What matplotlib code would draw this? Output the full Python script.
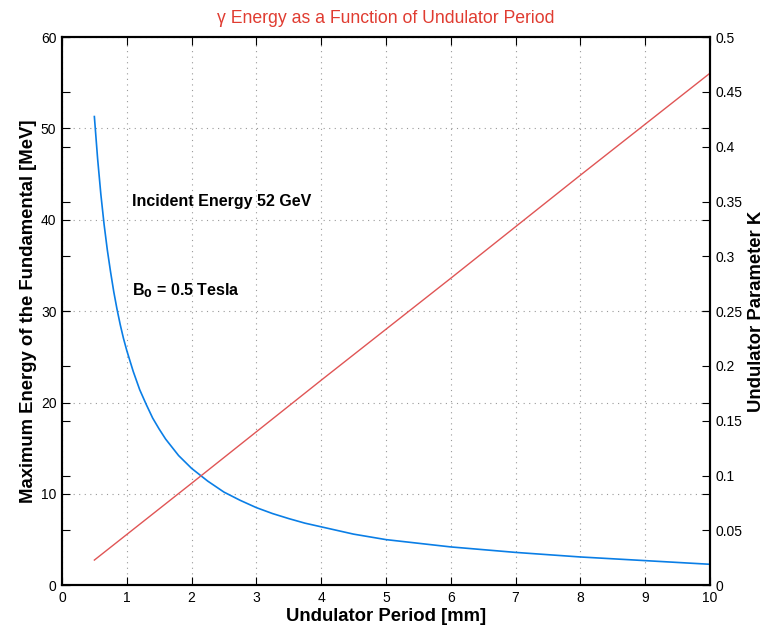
import matplotlib.pyplot as plt

plt.rcParams['font.family'] = ['Liberation Sans', 'DejaVu Sans']

# periodo del ondulador [mm] y energia maxima del fundamental [MeV]
period = [0.5, 0.55, 0.6, 0.65, 0.7, 0.75, 0.8, 0.85, 0.9, 0.95, 1.0, 1.1, 1.2, 1.3,
          1.4, 1.5, 1.6, 1.7, 1.8, 1.9, 2.0, 2.25, 2.5, 2.75, 3.0, 3.25, 3.5, 3.75,
          4.0, 4.5, 5.0, 5.5, 6.0, 6.5, 7.0, 7.5, 8.0, 8.5, 9.0, 9.5, 10.0]
energy = [51.3, 46.7, 42.8, 39.5, 36.7, 34.3, 32.1, 30.2, 28.5, 27.0, 25.7, 23.4, 21.4, 19.8,
          18.3, 17.1, 16.0, 15.1, 14.2, 13.5, 12.8, 11.4, 10.2, 9.3, 8.5, 7.85, 7.3, 6.8,
          6.4, 5.6, 5.0, 4.6, 4.2, 3.9, 3.6, 3.35, 3.1, 2.9, 2.7, 2.5, 2.3]

# parametro K del ondulador
period_k = [0.5, 2.0, 4.0, 6.0, 8.0, 10.0]
k_param = [0.023, 0.093, 0.187, 0.280, 0.374, 0.467]

blue = '#0a7ee6'
red = '#e05555'

fig = plt.figure(figsize=(7.65, 6.28), dpi=100)
ax1 = fig.add_axes([0.081, 0.068, 0.847, 0.873])
ax2 = ax1.twinx()

ax1.plot(period, energy, color=blue, lw=1.2)
ax2.plot(period_k, k_param, color=red, lw=1.0)

ax1.set_xlim(0, 10)
ax1.set_ylim(0, 60)
ax2.set_ylim(0, 0.5)
ax1.set_xticks(range(0, 11))
ax1.set_yticks(range(0, 61, 10))
ax2.set_yticks([i * 0.05 for i in range(11)])
ax2.set_yticklabels(['0', '0.05', '0.1', '0.15', '0.2', '0.25', '0.3', '0.35',
                     '0.4', '0.45', '0.5'])

ax1.grid(True, linestyle=(0, (1, 4)), color='#999999', lw=0.8)
ax1.tick_params(direction='in', top=True, right=True, length=6, labelsize=10, pad=4)
ax2.tick_params(direction='in', left=True, right=True, length=6, labelsize=10, pad=4)
for ax in (ax1, ax2):
    for s in ax.spines.values():
        s.set_linewidth(1.5)

ax1.set_xlabel('Undulator Period [mm]', fontsize=13.3, fontweight='bold', labelpad=2)
ax1.set_ylabel('Maximum Energy of the Fundamental [MeV]', fontsize=13.3, fontweight='bold', labelpad=3)
ax2.set_ylabel('Undulator Parameter K', fontsize=13.3, fontweight='bold', labelpad=4)
ax1.set_title('γ Energy as a Function of Undulator Period', color='#e03c31', fontsize=12.7, pad=10)

ax1.text(1.08, 42, 'Incident Energy 52 GeV', fontsize=11.5, fontweight='bold', va='center')
ax1.text(1.08, 32.2, r'B$_\mathbf{0}$ = 0.5 Tesla', fontsize=11.5, fontweight='bold', va='center')

fig.savefig('out.png', dpi=100)
